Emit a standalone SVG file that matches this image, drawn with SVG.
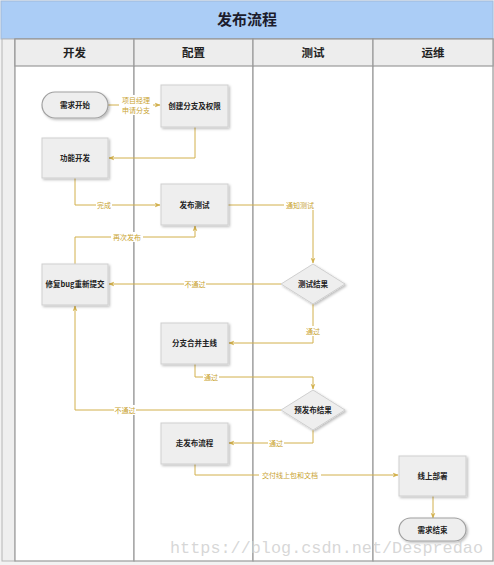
<svg xmlns="http://www.w3.org/2000/svg" width="494" height="565" viewBox="0 0 494 565">
<defs>
<marker id="arr" viewBox="0 0 10 10" refX="9" refY="5" markerWidth="6" markerHeight="6" orient="auto">
<path d="M0,1 L10,5 L0,9 L3,5 Z" fill="#d2b04c"/>
</marker>
<filter id="sh" x="-20%" y="-20%" width="150%" height="150%">
<feDropShadow dx="1.5" dy="1.5" stdDeviation="1" flood-color="#000" flood-opacity="0.25"/>
</filter>
<style>
.lane{fill:#fff;stroke:#9a9a9a;stroke-width:1.2}
.hdr{fill:#ededed;stroke:#9a9a9a;stroke-width:1.2}
.ht{font-family:"Noto Sans CJK SC","Liberation Sans",sans-serif;font-size:11.5px;font-weight:bold;fill:#222;text-anchor:middle}
.box{fill:#eeeeee;stroke:#cfcfcf;stroke-width:1;filter:url(#sh)}
.pill{fill:#eeeeee;stroke:#a0a0a0;stroke-width:1.2;filter:url(#sh)}
.nt{font-family:"Noto Sans CJK SC","Liberation Sans",sans-serif;font-size:7.5px;font-weight:bold;fill:#222;text-anchor:middle}
.c{fill:none;stroke:#d2b04c;stroke-width:1;marker-end:url(#arr)}
.lb{font-family:"Noto Sans CJK SC","Liberation Sans",sans-serif;font-size:7px;fill:#c9a330;text-anchor:middle}
.lbg{fill:#fff}
</style>
</defs>
<rect x="0" y="0" width="494" height="565" fill="#f2f2f2"/>
<!-- title -->
<rect x="1" y="1" width="492" height="38" fill="#abcdf6" stroke="#9fb9da" stroke-width="1"/>
<text x="247" y="25" font-family="Noto Sans CJK SC, Liberation Sans, sans-serif" font-size="15" font-weight="bold" fill="#1c1c2c" text-anchor="middle">发布流程</text>
<!-- pool strip -->
<rect x="2" y="39" width="13" height="522" fill="#efefef" stroke="#b5b5b5" stroke-width="1"/>
<!-- lanes -->
<rect class="lane" x="15" y="39" width="119" height="522"/>
<rect class="lane" x="134" y="39" width="119" height="522"/>
<rect class="lane" x="253" y="39" width="120" height="522"/>
<rect class="lane" x="373" y="39" width="120" height="522"/>
<rect class="hdr" x="15" y="39" width="119" height="27"/>
<rect class="hdr" x="134" y="39" width="119" height="27"/>
<rect class="hdr" x="253" y="39" width="120" height="27"/>
<rect class="hdr" x="373" y="39" width="120" height="27"/>
<text class="ht" x="74.5" y="57">开发</text>
<text class="ht" x="193.5" y="57">配置</text>
<text class="ht" x="313" y="57">测试</text>
<text class="ht" x="433" y="57">运维</text>

<!-- connectors -->
<g id="connectors">
<path class="c" d="M108,105 H160"/>
<rect class="lbg" x="119" y="95" width="34" height="20"/>
<text class="lb" x="136" y="103">项目经理</text>
<text class="lb" x="136" y="113">申请分支</text>

<path class="c" d="M195,127 V158 H109"/>

<path class="c" d="M75,178 V205 H160"/>
<rect class="lbg" x="96" y="200" width="16" height="10"/>
<text class="lb" x="104" y="207.5">完成</text>

<path class="c" d="M228,205 H313 V263"/>
<rect class="lbg" x="284" y="200" width="32" height="10"/>
<text class="lb" x="300" y="207.5">通知测试</text>

<path class="c" d="M281,284 H109"/>
<rect class="lbg" x="184" y="279" width="22" height="10"/>
<text class="lb" x="195" y="286.5">不通过</text>

<path class="c" d="M75,264 V237 H195 V226"/>
<rect class="lbg" x="111" y="232" width="32" height="10"/>
<text class="lb" x="127" y="239.5">再次发布</text>

<path class="c" d="M313,304 V343 H229"/>
<rect class="lbg" x="305" y="326" width="16" height="10"/>
<text class="lb" x="313" y="333.5">通过</text>

<path class="c" d="M195,364 V377 H313 V389"/>
<rect class="lbg" x="203" y="372" width="16" height="10"/>
<text class="lb" x="211" y="379.5">通过</text>

<path class="c" d="M281,410 H75 V306"/>
<rect class="lbg" x="114" y="405" width="22" height="10"/>
<text class="lb" x="125" y="412.5">不通过</text>

<path class="c" d="M313,430 V443 H229"/>
<rect class="lbg" x="268" y="438" width="16" height="10"/>
<text class="lb" x="276" y="445.5">通过</text>

<path class="c" d="M195,464 V475 H398"/>
<rect class="lbg" x="259" y="470" width="62" height="10"/>
<text class="lb" x="290" y="477.5">交付线上包和文档</text>

<path class="c" d="M433,496 V518"/>
</g>

<!-- nodes -->
<g id="n-start"><rect class="pill" x="42" y="92" width="66" height="26" rx="13"/><text class="nt" x="75" y="108">需求开始</text></g>
<g id="n-branch"><rect class="box" x="161" y="85" width="67" height="42"/><text class="nt" x="194.5" y="109">创建分支及权限</text></g>
<g id="n-dev"><rect class="box" x="42" y="138" width="66" height="40"/><text class="nt" x="75" y="161">功能开发</text></g>
<g id="n-release-test"><rect class="box" x="161" y="184" width="67" height="41"/><text class="nt" x="194.5" y="208">发布测试</text></g>
<g id="n-fix"><rect class="box" x="42" y="264" width="66" height="41"/><text class="nt" x="75" y="287">修复bug重新提交</text></g>
<g id="n-test-result"><polygon class="box" points="313,264 345,284 313,304 281,284"/><text class="nt" x="313" y="287">测试结果</text></g>
<g id="n-merge"><rect class="box" x="161" y="323" width="67" height="41"/><text class="nt" x="194.5" y="346">分支合并主线</text></g>
<g id="n-pre-result"><polygon class="box" points="313,390 345,410 313,430 281,410"/><text class="nt" x="313" y="413">预发布结果</text></g>
<g id="n-release-flow"><rect class="box" x="161" y="423" width="67" height="41"/><text class="nt" x="194.5" y="446">走发布流程</text></g>
<g id="n-deploy"><rect class="box" x="399" y="456" width="67" height="40"/><text class="nt" x="432.5" y="479">线上部署</text></g>
<g id="n-end"><rect class="pill" x="399" y="518" width="67" height="23" rx="11.5"/><text class="nt" x="432.5" y="532.5">需求结束</text></g>

<text x="170" y="553" font-family="Liberation Mono, monospace" font-size="17" fill="#d0d0d0" fill-opacity="0.85" textLength="313" lengthAdjust="spacingAndGlyphs">https://blog.csdn.net/Despredao</text>
</svg>
